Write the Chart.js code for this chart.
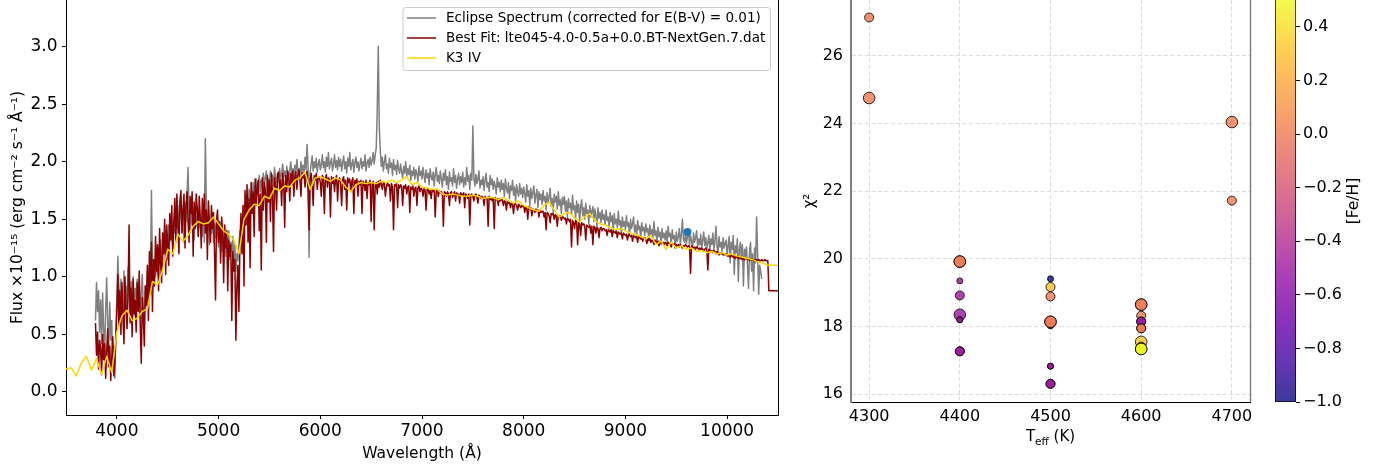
<!DOCTYPE html>
<html>
<head>
<meta charset="utf-8">
<script src="https://cdn.jsdelivr.net/npm/chart.js@4.4.0/dist/chart.umd.min.js"></script>
<style>
  html, body { margin: 0; padding: 0; background: #fff; }
  body { width: 1384px; height: 468px; position: relative; overflow: hidden; }
  canvas { position: absolute; top: 0; }
  #spec { left: 0; }
  #chi { left: 790px; }
  #cbar { left: 1262px; }
</style>
</head>
<body>
<canvas id="spec" width="790" height="468"></canvas>
<canvas id="chi" width="472" height="468"></canvas>
<canvas id="cbar" width="122" height="468"></canvas>
<script>
const FONT = 'DejaVu Sans';

// Eclipse spectrum and best-fit model, flux on a common 10 A grid starting at 3790 A
// (one row = 200 A)
const specStart = 3790, specStep = 10;
const eclipseFlux = [
  0.62, 0.95, 0.70, 0.88, 0.52, 0.80, 0.42, 0.86, 0.55, 0.30, 0.72, 0.99, 0.60, 0.38, 0.78, 0.45, 0.62, 0.18, 0.40, 0.12,
  0.55, 0.82, 1.18, 0.90, 0.72, 0.98, 0.80, 0.68, 1.05, 0.76, 0.92, 0.64, 1.08, 0.85, 0.70, 0.96, 0.78, 1.00, 0.66, 0.90,
  0.82, 0.98, 0.72, 0.90, 0.64, 0.86, 1.02, 0.70, 0.62, 0.92, 0.78, 1.05, 0.88, 1.10, 0.95, 1.75, 1.08, 0.92, 1.15, 1.00,
  1.20, 1.02, 1.25, 1.10, 1.32, 1.18, 1.08, 1.36, 1.22, 1.40, 1.28, 1.15, 1.45, 1.30, 1.52, 1.35, 1.25, 1.48, 1.38, 1.55,
  1.42, 1.62, 1.36, 1.55, 1.68, 1.40, 1.58, 1.30, 1.65, 1.48, 1.72, 1.95, 1.50, 1.38, 1.62, 1.45, 1.56, 1.32, 1.60, 1.44,
  1.52, 1.36, 1.60, 1.42, 1.50, 1.35, 1.56, 1.30, 2.20, 1.62, 1.40, 1.52, 1.28, 1.48, 1.38, 1.55, 1.30, 1.46, 1.34, 1.50,
  1.40, 1.26, 1.45, 1.32, 1.22, 1.40, 1.28, 1.36, 1.18, 1.34, 1.25, 1.40, 1.15, 1.30, 1.22, 1.35, 1.10, 1.28, 1.05, 1.20,
  1.14, 1.30, 1.40, 1.25, 1.52, 1.45, 1.62, 1.50, 1.70, 1.58, 1.66, 1.76, 1.62, 1.74, 1.68, 1.82, 1.70, 1.78, 1.85, 1.72,
  1.80, 1.88, 1.74, 1.84, 1.78, 1.90, 1.80, 1.86, 1.92, 1.76, 1.85, 1.80, 1.92, 1.84, 1.88, 1.79, 1.95, 1.86, 1.82, 1.90,
  1.86, 1.94, 1.84, 1.90, 1.98, 1.87, 1.92, 1.85, 1.96, 1.89, 1.84, 1.93, 2.00, 1.88, 1.94, 1.86, 1.97, 1.90, 2.02, 1.91,
  1.94, 1.88, 2.00, 1.92, 1.97, 1.90, 2.04, 1.93, 2.15, 1.95, 1.17, 1.90, 1.98, 2.05, 1.92, 2.00, 1.95, 2.03, 1.91, 1.98,
  2.02, 1.93, 1.97, 2.06, 1.95, 2.00, 1.91, 2.04, 1.96, 2.08, 1.94, 1.99, 2.03, 1.92, 1.98, 2.06, 1.95, 2.01, 1.93, 2.04,
  1.96, 2.02, 1.92, 1.99, 2.05, 1.94, 2.00, 1.90, 2.03, 1.96, 2.08, 1.93, 1.98, 2.02, 1.91, 1.99, 2.04, 1.95, 2.00, 1.92,
  1.98, 2.03, 1.94, 2.00, 1.96, 2.06, 1.92, 1.99, 2.02, 1.95, 2.04, 1.97, 2.01, 2.08, 1.98, 2.06, 2.12, 2.45, 3.00, 2.30,
  2.10, 1.96, 2.04, 1.92, 2.00, 2.06, 1.94, 1.98, 1.90, 2.03, 1.95, 1.99, 1.88, 2.02, 1.93, 1.97, 1.89, 2.01, 1.94, 1.90,
  1.98, 1.91, 1.86, 1.96, 1.90, 2.00, 1.87, 1.94, 1.89, 1.97, 1.84, 1.92, 1.88, 1.95, 1.85, 1.93, 1.90, 1.83, 1.96, 1.88,
  1.92, 1.85, 1.95, 1.88, 1.82, 1.93, 1.86, 1.90, 1.80, 1.94, 1.87, 1.84, 1.91, 1.79, 1.89, 1.95, 1.83, 1.88, 1.81, 1.92,
  1.85, 1.78, 1.90, 1.84, 1.93, 1.80, 1.87, 1.76, 1.91, 1.83, 1.86, 1.79, 1.94, 1.82, 1.88, 1.77, 1.85, 1.90, 1.80, 1.87,
  1.82, 1.91, 1.78, 1.86, 1.80, 1.95, 1.83, 1.88, 1.76, 1.90, 1.84, 2.31, 1.86, 1.79, 1.89, 1.81, 1.85, 1.92, 1.77, 1.84,
  1.80, 1.87, 1.75, 1.84, 1.90, 1.78, 1.82, 1.74, 1.88, 1.80, 1.85, 1.76, 1.83, 1.79, 1.72, 1.86, 1.78, 1.82, 1.74, 1.84,
  1.76, 1.81, 1.70, 1.85, 1.77, 1.73, 1.82, 1.68, 1.79, 1.75, 1.84, 1.71, 1.78, 1.66, 1.80, 1.74, 1.70, 1.81, 1.72, 1.77,
  1.69, 1.78, 1.72, 1.65, 1.80, 1.70, 1.75, 1.62, 1.77, 1.68, 1.73, 1.79, 1.64, 1.71, 1.76, 1.60, 1.74, 1.67, 1.72, 1.63,
  1.75, 1.66, 1.70, 1.58, 1.73, 1.64, 1.69, 1.77, 1.61, 1.68, 1.56, 1.72, 1.65, 1.70, 1.59, 1.74, 1.62, 1.67, 1.55, 1.69,
  1.63, 1.70, 1.57, 1.66, 1.52, 1.68, 1.60, 1.64, 1.54, 1.71, 1.58, 1.62, 1.50, 1.66, 1.56, 1.63, 1.48, 1.61, 1.67, 1.53,
  1.60, 1.50, 1.64, 1.55, 1.58, 1.46, 1.62, 1.52, 1.57, 1.61, 1.48, 1.59, 1.53, 1.44, 1.60, 1.51, 1.56, 1.47, 1.58, 1.50,
  1.54, 1.45, 1.58, 1.49, 1.52, 1.42, 1.56, 1.48, 1.53, 1.40, 1.55, 1.46, 1.50, 1.43, 1.57, 1.45, 1.49, 1.38, 1.52, 1.44,
  1.48, 1.41, 1.53, 1.44, 1.47, 1.36, 1.50, 1.42, 1.46, 1.52, 1.39, 1.45, 1.35, 1.49, 1.41, 1.44, 1.33, 1.47, 1.40, 1.43,
  1.36, 1.46, 1.39, 1.42, 1.31, 1.45, 1.37, 1.41, 1.34, 1.48, 1.36, 1.40, 1.30, 1.43, 1.35, 1.39, 1.28, 1.42, 1.34, 1.38,
  1.32, 1.40, 1.29, 1.44, 1.35, 1.38, 1.27, 1.41, 1.33, 1.36, 1.26, 1.39, 1.31, 1.35, 1.42, 1.28, 1.37, 1.50, 1.33, 1.30,
  1.38, 1.29, 1.35, 1.41, 1.27, 1.36, 1.31, 1.25, 1.38, 1.30, 1.34, 1.40, 1.26, 1.33, 1.28, 1.37, 1.24, 1.32, 1.39, 1.27,
  1.34, 1.25, 1.30, 1.36, 1.22, 1.33, 1.28, 1.38, 1.24, 1.31, 1.44, 1.27, 1.20, 1.35, 1.26, 1.30, 1.22, 1.34, 1.25, 1.29,
  1.32, 1.18, 1.28, 1.35, 1.12, 1.30, 1.24, 1.36, 1.02, 1.27, 1.21, 1.33, 0.96, 1.25, 1.30, 1.15, 1.28, 0.92, 1.24, 1.18,
  1.26, 1.10, 0.90, 1.22, 1.30, 1.05, 1.20, 0.88, 1.25, 1.12, 1.52, 1.18, 0.85, 1.10, 1.05, 0.98, null, null, null, null,
  null, null, null, null, null, null, null, null, null, null, null, null, 1.01
];
const modelFlux = [
  0.60, 0.32, 0.52, 0.20, 0.45, 0.38, 0.15, 0.50, 0.28, 0.42, 0.12, 0.35, 0.55, 0.22, 0.40, 0.10, 0.30, 0.48, 0.14, 0.25,
  0.45, 0.70, 1.02, 0.58, 0.88, 0.50, 0.95, 0.65, 0.42, 1.00, 0.72, 0.55, 0.85, 1.45, 0.60, 0.90, 0.48, 0.98, 0.68, 0.80,
  0.52, 0.95, 0.70, 1.05, 0.58, 0.25, 0.82, 0.65, 0.40, 0.92, 0.75, 1.10, 0.62, 1.22, 0.85, 1.30, 0.70, 1.15, 0.92, 1.35,
  1.05, 1.28, 0.88, 1.42, 1.12, 0.95, 1.38, 1.20, 1.50, 1.02, 1.45, 1.28, 1.10, 1.55, 1.32, 1.62, 1.18, 1.48, 1.68, 1.30,
  1.72, 1.45, 1.20, 1.66, 1.75, 1.38, 1.58, 1.72, 1.25, 1.62, 1.74, 1.48, 1.30, 1.70, 1.55, 1.74, 1.18, 1.65, 1.42, 1.72,
  1.60, 1.35, 1.70, 1.52, 1.25, 1.68, 1.45, 1.72, 1.38, 1.58, 1.15, 1.66, 1.48, 1.30, 1.62, 1.42, 1.56, 1.22, 0.80, 1.50,
  1.58, 1.30, 1.48, 1.12, 1.52, 1.38, 0.95, 1.45, 1.25, 1.40, 0.88, 1.32, 1.18, 1.28, 0.62, 1.22, 1.05, 1.15, 0.45, 0.92,
  1.10, 0.70, 1.30, 1.55, 1.20, 1.62, 0.92, 1.75, 1.45, 1.80, 1.30, 1.68, 1.08, 1.82, 1.55, 1.74, 1.35, 1.85, 1.62, 1.78,
  1.84, 1.40, 1.72, 1.06, 1.86, 1.58, 1.82, 1.75, 1.30, 1.88, 1.65, 1.84, 1.48, 1.90, 1.72, 1.22, 1.86, 1.80, 1.58, 1.89,
  1.91, 1.76, 1.84, 1.62, 1.90, 1.82, 1.43, 1.88, 1.74, 1.92, 1.85, 1.66, 1.90, 1.80, 1.92, 1.70, 1.87, 1.91, 1.76, 1.89,
  1.93, 1.84, 1.70, 1.91, 1.86, 1.90, 1.78, 1.88, 1.92, 1.74, 1.41, 1.85, 1.90, 1.80, 1.62, 1.88, 1.84, 1.90, 1.76, 1.86,
  1.87, 1.82, 1.70, 1.88, 1.86, 1.55, 1.85, 1.89, 1.78, 1.86, 1.84, 1.52, 1.87, 1.81, 1.86, 1.74, 1.85, 1.88, 1.66, 1.84,
  1.86, 1.80, 1.62, 1.85, 1.87, 1.76, 1.84, 1.58, 1.86, 1.82, 1.85, 1.74, 1.83, 1.86, 1.55, 1.84, 1.81, 1.85, 1.70, 1.83,
  1.80, 1.84, 1.55, 1.83, 1.82, 1.75, 1.84, 1.68, 1.82, 1.80, 1.84, 1.48, 1.81, 1.83, 1.41, 1.80, 1.82, 1.72, 1.83, 1.78,
  1.84, 1.80, 1.76, 1.82, 1.81, 1.70, 1.78, 1.82, 1.79, 1.80, 1.66, 1.81, 1.78, 1.41, 1.80, 1.79, 1.81, 1.60, 1.80, 1.77,
  1.80, 1.78, 1.62, 1.79, 1.77, 1.80, 1.72, 1.78, 1.79, 1.56, 1.78, 1.76, 1.79, 1.70, 1.77, 1.78, 1.62, 1.77, 1.79, 1.74,
  1.77, 1.76, 1.70, 1.77, 1.75, 1.58, 1.76, 1.77, 1.72, 1.75, 1.68, 1.76, 1.74, 1.75, 1.52, 1.74, 1.76, 1.70, 1.75, 1.73,
  1.74, 1.72, 1.44, 1.74, 1.73, 1.70, 1.74, 1.72, 1.62, 1.73, 1.74, 1.69, 1.72, 1.74, 1.66, 1.73, 1.71, 1.72, 1.64, 1.73,
  1.72, 1.70, 1.73, 1.60, 1.72, 1.71, 1.68, 1.72, 1.45, 1.71, 1.72, 1.70, 1.66, 1.71, 1.72, 1.69, 1.64, 1.71, 1.70, 1.68,
  1.70, 1.69, 1.62, 1.70, 1.68, 1.69, 1.44, 1.70, 1.67, 1.69, 1.66, 1.68, 1.42, 1.69, 1.67, 1.68, 1.62, 1.68, 1.66, 1.67,
  1.67, 1.62, 1.66, 1.65, 1.58, 1.66, 1.64, 1.65, 1.60, 1.64, 1.63, 1.55, 1.64, 1.63, 1.62, 1.58, 1.63, 1.62, 1.60, 1.62,
  1.61, 1.62, 1.56, 1.61, 1.60, 1.50, 1.61, 1.59, 1.60, 1.53, 1.59, 1.58, 1.56, 1.59, 1.57, 1.58, 1.52, 1.58, 1.56, 1.57,
  1.57, 1.52, 1.56, 1.41, 1.56, 1.55, 1.53, 1.47, 1.55, 1.54, 1.55, 1.50, 1.54, 1.53, 1.44, 1.53, 1.52, 1.53, 1.49, 1.52,
  1.52, 1.50, 1.51, 1.46, 1.51, 1.50, 1.48, 1.50, 1.26, 1.49, 1.47, 1.42, 1.49, 1.48, 1.28, 1.47, 1.46, 1.36, 1.47, 1.45,
  1.46, 1.44, 1.32, 1.45, 1.44, 1.43, 1.45, 1.38, 1.44, 1.28, 1.44, 1.43, 1.38, 1.43, 1.42, 1.34, 1.42, 1.43, 1.40, 1.42,
  1.42, 1.40, 1.41, 1.36, 1.41, 1.40, 1.39, 1.41, 1.35, 1.40, 1.39, 1.38, 1.40, 1.34, 1.39, 1.38, 1.37, 1.38, 1.33, 1.38,
  1.37, 1.36, 1.37, 1.32, 1.37, 1.36, 1.35, 1.36, 1.31, 1.36, 1.35, 1.34, 1.35, 1.30, 1.35, 1.34, 1.33, 1.34, 1.31, 1.34,
  1.34, 1.33, 1.29, 1.33, 1.32, 1.33, 1.30, 1.32, 1.31, 1.28, 1.32, 1.31, 1.30, 1.31, 1.27, 1.31, 1.30, 1.29, 1.30, 1.28,
  1.30, 1.29, 1.27, 1.30, 1.29, 1.28, 1.26, 1.29, 1.28, 1.29, 1.25, 1.28, 1.27, 1.28, 1.26, 1.28, 1.27, 1.25, 1.27, 1.26,
  1.28, 1.27, 1.26, 1.27, 1.26, 1.03, 1.27, 1.26, 1.25, 1.26, 1.24, 1.26, 1.25, 1.24, 1.25, 1.23, 1.25, 1.24, 1.22, 1.24,
  1.25, 1.24, 1.06, 1.24, 1.23, 1.22, 1.23, 1.21, 1.23, 1.22, 1.20, 1.22, 1.21, 1.19, 1.21, 1.20, 1.21, 1.19, 1.20, 1.19,
  1.20, 1.19, 1.18, 1.19, 1.17, 1.19, 1.18, 1.17, 1.18, 1.16, 1.17, 1.18, 1.16, 1.17, 1.16, 1.17, 1.15, 1.16, 1.15, 1.16,
  1.16, 1.15, 1.16, 1.14, 1.16, 1.15, 1.15, 1.14, 1.15, 1.14, 1.15, 1.14, 1.15, 1.14, 1.14, 1.15, 1.14, 1.14, 1.15, 1.14,
  1.14, 1.14, 0.88, 0.88, 0.88, 0.88, 0.88, 0.88, 0.88, 0.88, 0.88, 0.88, 0.88
];

// K3 IV template, 50 A grid starting at 3500 A
const tmplStart = 3500, tmplStep = 50;
const templateFlux = [
  0.20, 0.21, 0.14, 0.25, 0.31, 0.19, 0.29, 0.15, 0.31, 0.17,
  0.52, 0.66, 0.71, 0.62, 0.64, 0.70, 0.72, 0.96, 0.93, 1.06,
  1.24, 1.20, 1.37, 1.31, 1.36, 1.44, 1.48, 1.46, 1.47, 1.52,
  1.46, 1.40, 1.37, 1.32, 1.20, 1.50, 1.58, 1.63, 1.62, 1.70,
  1.68, 1.77, 1.75, 1.79, 1.78, 1.84, 1.86, 1.91, 1.76, 1.86,
  1.87, 1.85, 1.83, 1.86, 1.84, 1.78, 1.74, 1.80, 1.82, 1.81,
  1.82, 1.81, 1.83, 1.82, 1.84, 1.82, 1.84, 1.87, 1.80, 1.82,
  1.78, 1.77, 1.76, 1.76, 1.72, 1.71, 1.72, 1.71, 1.70, 1.70,
  1.71, 1.70, 1.68, 1.69, 1.69, 1.67, 1.69, 1.66, 1.64, 1.66,
  1.62, 1.60, 1.58, 1.57, 1.62, 1.65, 1.58, 1.52, 1.55, 1.56,
  1.51, 1.48, 1.52, 1.55, 1.49, 1.46, 1.45, 1.43, 1.41, 1.42,
  1.40, 1.38, 1.37, 1.35, 1.33, 1.36, 1.28, 1.31, 1.24, 1.30,
  1.25, 1.27, 1.24, 1.25, 1.22, 1.23, 1.21, 1.22, 1.20, 1.21,
  1.19, 1.20, 1.18, 1.17, 1.16, 1.15, 1.13, 1.12, 1.10, 1.10,
  1.10
];

// single photometric point
const photWave = [9610];
const photFlux = [1.39];

const waveTicks = [4000, 5000, 6000, 7000, 8000, 9000, 10000];
const fluxTicks = [0.0, 0.5, 1.0, 1.5, 2.0, 2.5, 3.0];

// model grid fits: Teff, chi^2, [Fe/H], log g
const gridTeff = [4300, 4300,
  4400, 4400, 4400, 4400, 4400, 4400, 4400, 4400, 4400,
  4500, 4500, 4500, 4500, 4500, 4500, 4500, 4500, 4500, 4500,
  4600, 4600, 4600, 4600, 4600, 4600, 4600, 4600, 4600, 4600, 4600,
  4700, 4700];
const gridChi2 = [27.13, 24.75,
  19.92, 19.92, 19.35, 18.92, 18.35, 18.20, 18.20, 17.27, 17.27,
  19.41, 19.17, 18.89, 18.02, 18.14, 18.14, 16.83, 16.83, 16.31, 16.31,
  18.65, 18.65, 18.32, 18.15, 18.15, 17.95, 17.95, 17.55, 17.41, 17.34, 17.34,
  24.04, 21.72];
const gridFeH = [0.0, 0.0,
  0.0, 0.0, -0.5, -0.5, -0.5, -0.5, -0.5, -0.5, -0.5,
  -1.0, 0.3, 0.0, -0.5, 0.0, 0.0, -0.5, -0.5, -0.5, -0.5,
  0.0, 0.0, 0.0, -0.5, -0.5, 0.0, 0.0, 0.3, 0.3, 0.5, 0.5,
  0.0, 0.0];
const gridLogg = [4.0, 4.5,
  4.5, 4.5, 3.5, 4.0, 4.5, 3.5, 3.5, 4.0, 4.0,
  3.5, 4.0, 4.0, 3.5, 4.5, 4.5, 3.5, 3.5, 4.0, 4.0,
  4.5, 4.5, 4.0, 4.0, 4.0, 4.0, 4.0, 4.5, 4.0, 4.5, 4.5,
  4.5, 4.0];

const teffTicks = [4300, 4400, 4500, 4600, 4700];
const chi2Ticks = [16, 18, 20, 22, 24, 26];
const fehTicks = [-1.0, -0.8, -0.6, -0.4, -0.2, 0.0, 0.2, 0.4];
const fehMin = -1.0, fehMax = 0.5;

// marker radius per log g
const loggRadius = { 3.5: 3, 4.0: 4.5, 4.5: 5.8 };

// plasma colormap
const plasmaStops = ['#0d0887', '#41049d', '#6a00a8', '#8f0da4', '#b12a90', '#cc4778',
  '#e16462', '#f2844b', '#fca636', '#fcce25', '#f0f921'];
function hexRgb(h) {
  return [1, 3, 5].map(i => parseInt(h.slice(i, i + 2), 16));
}
function plasma(t, alpha) {
  t = Math.min(1, Math.max(0, t));
  const s = t * (plasmaStops.length - 1);
  const k = Math.min(Math.floor(s), plasmaStops.length - 2);
  const f = s - k;
  const a = hexRgb(plasmaStops[k]), b = hexRgb(plasmaStops[k + 1]);
  const c = a.map((v, j) => Math.round(v + (b[j] - v) * f));
  return 'rgba(' + c[0] + ',' + c[1] + ',' + c[2] + ',' + alpha + ')';
}
const fehColor = v => plasma((v - fehMin) / (fehMax - fehMin), 0.8);

function onGrid(start, step, flux) {
  return flux.map((f, i) => ({ x: start + i * step, y: f }));
}
const fixedTicks = list => s => { s.ticks = list.map(v => ({ value: v })); };
const noPad = s => { s.paddingLeft = s.paddingRight = s.paddingTop = s.paddingBottom = 0; };
const minus = v => (v < 0 ? '\u2212' : '') + Math.abs(v).toFixed(1);

// extra spine on the right side of a plot
const rightSpine = {
  id: 'rightSpine',
  afterDraw(chart, args, opts) {
    const { ctx, chartArea: a } = chart;
    ctx.save();
    ctx.strokeStyle = opts.color;
    ctx.lineWidth = opts.width;
    ctx.beginPath();
    ctx.moveTo(Math.round(a.right) + 0.5, a.top);
    ctx.lineTo(Math.round(a.right) + 0.5, a.bottom);
    ctx.stroke();
    ctx.restore();
  }
};

// boxed legend in the upper right corner of the spectrum panel
const specLegend = {
  id: 'specLegend',
  afterDraw(chart) {
    const ctx = chart.ctx;
    const items = chart.data.datasets.filter(d => d.inLegend);
    ctx.save();
    ctx.beginPath();
    ctx.roundRect(403, 7.5, 367.5, 63, 3);
    ctx.fillStyle = 'rgba(255,255,255,0.8)';
    ctx.fill();
    ctx.strokeStyle = '#cccccc';
    ctx.lineWidth = 1;
    ctx.stroke();
    ctx.font = '13.5px "' + FONT + '"';
    ctx.textBaseline = 'middle';
    items.forEach((d, k) => {
      const y = 18 + 20 * k;
      ctx.strokeStyle = d.borderColor;
      ctx.lineWidth = 1.5;
      ctx.beginPath();
      ctx.moveTo(407, y);
      ctx.lineTo(436, y);
      ctx.stroke();
      ctx.fillStyle = '#000';
      ctx.fillText(d.label, 446, y);
    });
    ctx.restore();
  }
};

new Chart(document.getElementById('spec'), {
  type: 'line',
  data: {
    datasets: [
      { label: 'Eclipse Spectrum (corrected for E(B-V) = 0.01)', inLegend: true,
        data: onGrid(specStart, specStep, eclipseFlux), borderColor: '#808080', order: 3 },
      { label: 'Best Fit: lte045-4.0-0.5a+0.0.BT-NextGen.7.dat', inLegend: true,
        data: onGrid(specStart, specStep, modelFlux), borderColor: '#8b0000', order: 2 },
      { label: 'K3 IV', inLegend: true,
        data: onGrid(tmplStart, tmplStep, templateFlux), borderColor: '#ffd700', order: 1 },
      { type: 'scatter', label: 'phot', showLine: false, order: 0,
        data: photWave.map((w, i) => ({ x: w, y: photFlux[i] })),
        backgroundColor: '#1f77b4', borderWidth: 0, pointRadius: 4 }
    ]
  },
  options: {
    responsive: false,
    animation: false,
    spanGaps: true,
    layout: { padding: { right: 12 }, autoPadding: false },
    elements: {
      point: { radius: 0 },
      line: { borderWidth: 1.5, tension: 0, borderJoinStyle: 'round', fill: false }
    },
    plugins: {
      legend: { display: false },
      tooltip: { enabled: false },
      rightSpine: { color: '#000', width: 1 }
    },
    scales: {
      x: {
        type: 'linear', min: 3500, max: 10500,
        afterBuildTicks: fixedTicks(waveTicks),
        afterFit: s => { s.height = 53; noPad(s); },
        grid: { drawOnChartArea: false, tickLength: 4, tickColor: '#000', tickWidth: 1 },
        border: { color: '#000', width: 1 },
        ticks: { font: { family: FONT, size: 17 }, color: '#000', padding: 2, maxRotation: 0, autoSkip: false,
                 callback: v => String(v) },
        title: { display: true, text: 'Wavelength (Å)', color: '#000',
                 font: { family: FONT, size: 15.5 }, padding: { top: 0, bottom: 5 } }
      },
      y: {
        min: -0.2, max: 3.405,
        afterBuildTicks: fixedTicks(fluxTicks),
        afterFit: s => { s.width = 66; noPad(s); },
        grid: { drawOnChartArea: false, tickLength: 4, tickColor: '#000', tickWidth: 1 },
        border: { color: '#000', width: 1 },
        ticks: { font: { family: FONT, size: 17 }, color: '#000', padding: 4.5,
                 callback: v => v.toFixed(1) },
        title: { display: true, text: 'Flux ×10⁻¹⁵ (erg cm⁻² s⁻¹ Å⁻¹)', color: '#000',
                 font: { family: FONT, size: 15.5 }, padding: { top: 9, bottom: 0 } }
      }
    }
  },
  plugins: [rightSpine, specLegend]
});

// T_eff axis title with a subscript
const teffTitle = {
  id: 'teffTitle',
  afterDraw(chart) {
    const { ctx, chartArea: a } = chart;
    const big = '15px "' + FONT + '"', small = '10.5px "' + FONT + '"';
    ctx.save();
    ctx.fillStyle = '#000';
    ctx.textBaseline = 'alphabetic';
    ctx.font = big; const wT = ctx.measureText('T').width, wK = ctx.measureText(' (K)').width;
    ctx.font = small; const wS = ctx.measureText('eff').width;
    let x = (a.left + a.right) / 2 - (wT + wS + wK) / 2;
    const y = 441;
    ctx.font = big; ctx.fillText('T', x, y); x += wT;
    ctx.font = small; ctx.fillText('eff', x, y + 3.5); x += wS;
    ctx.font = big; ctx.fillText(' (K)', x, y);
    ctx.restore();
  }
};

new Chart(document.getElementById('chi'), {
  type: 'scatter',
  data: {
    datasets: [{
      label: 'grid',
      data: gridTeff.map((t, i) => ({ x: t, y: gridChi2[i] })),
      pointBackgroundColor: gridFeH.map(fehColor),
      pointBorderColor: 'rgba(0,0,0,0.8)',
      pointBorderWidth: 1,
      pointRadius: gridLogg.map(g => loggRadius[g])
    }]
  },
  options: {
    responsive: false,
    animation: false,
    layout: { padding: { right: 12 }, autoPadding: false },
    plugins: {
      legend: { display: false },
      tooltip: { enabled: false },
      rightSpine: { color: '#808080', width: 1.5 }
    },
    scales: {
      x: {
        type: 'linear', min: 4280, max: 4720,
        afterBuildTicks: fixedTicks(teffTicks),
        afterFit: s => { s.height = 66; noPad(s); },
        grid: { color: '#dcdcdc', lineWidth: 1, drawTicks: false },
        border: { color: '#000', width: 1, dash: [4, 2.5] },
        ticks: { font: { family: FONT, size: 16 }, color: '#000', padding: 5, maxRotation: 0, autoSkip: false,
                 callback: v => String(v) }
      },
      y: {
        min: 15.773, max: 27.645,
        afterBuildTicks: fixedTicks(chi2Ticks),
        afterFit: s => { s.width = 61; noPad(s); },
        grid: { color: '#dcdcdc', lineWidth: 1, drawTicks: false },
        border: { color: '#808080', width: 2, dash: [4, 2.5] },
        ticks: { font: { family: FONT, size: 16 }, color: '#000', padding: 8,
                 callback: v => String(v) },
        title: { display: true, text: 'χ²', color: '#000',
                 font: { family: FONT, size: 15 }, padding: { top: 11, bottom: 0 } }
      }
    }
  },
  plugins: [rightSpine, teffTitle]
});

// colorbar: gradient strip, outline and rotated label
const colorbarStrip = {
  id: 'colorbarStrip',
  beforeDatasetsDraw(chart) {
    const { ctx, chartArea: a } = chart;
    const g = ctx.createLinearGradient(0, a.bottom, 0, a.top);
    for (let k = 0; k <= 40; k++) g.addColorStop(k / 40, plasma(k / 40, 0.8));
    ctx.save();
    ctx.fillStyle = g;
    ctx.fillRect(a.left, a.top, a.right - a.left, a.bottom - a.top);
    ctx.strokeStyle = 'rgba(0,0,0,0.7)';
    ctx.lineWidth = 1;
    ctx.strokeRect(a.left + 0.5, a.top - 1, a.right - a.left - 1, a.bottom - a.top + 0.5);
    ctx.translate(92, 201);
    ctx.rotate(-Math.PI / 2);
    ctx.font = '15.5px "' + FONT + '"';
    ctx.fillStyle = '#000';
    ctx.textAlign = 'center';
    ctx.textBaseline = 'middle';
    ctx.fillText('[Fe/H]', 0, 0);
    ctx.restore();
  }
};

new Chart(document.getElementById('cbar'), {
  type: 'scatter',
  data: { datasets: [] },
  options: {
    responsive: false,
    animation: false,
    layout: { padding: { left: 13, bottom: 66 }, autoPadding: false },
    plugins: { legend: { display: false }, tooltip: { enabled: false } },
    scales: {
      x: { display: false, min: 0, max: 1 },
      y: {
        position: 'right', min: fehMin, max: fehMax,
        afterBuildTicks: fixedTicks(fehTicks),
        afterFit: s => { s.width = 88; noPad(s); },
        grid: { drawOnChartArea: false, tickLength: 4, tickColor: '#000', tickWidth: 1 },
        border: { display: false },
        ticks: { font: { family: FONT, size: 16 }, color: '#000', padding: 3, callback: minus }
      }
    }
  },
  plugins: [colorbarStrip]
});
</script>
</body>
</html>
